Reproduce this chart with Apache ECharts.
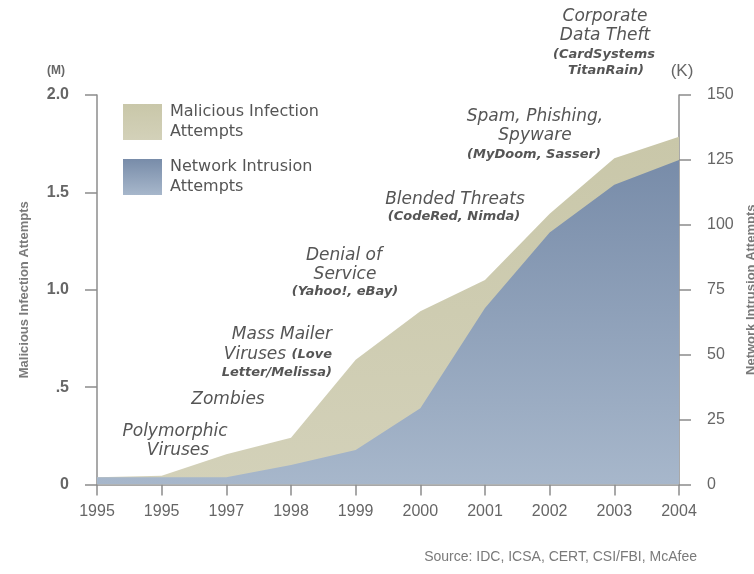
<!DOCTYPE html>
<html>
<head>
<meta charset="utf-8">
<script src="https://cdn.jsdelivr.net/npm/echarts@6/dist/echarts.min.js"></script>
<style>
  html, body { margin: 0; padding: 0; background: #ffffff; }
  #chart { width: 754px; height: 574px; }
</style>
</head>
<body>
<div id="chart"></div>
<script>
// Year labels along the bottom axis (as printed)
const years = ['1995', '1995', '1997', '1998', '1999', '2000', '2001', '2002', '2003', '2004'];
// Malicious infection attempts, millions (left axis)
const infectionM = [0.037, 0.045, 0.155, 0.24, 0.64, 0.89, 1.05, 1.39, 1.675, 1.785];
// Network intrusion attempts, thousands (right axis)
const intrusionK = [2.8, 2.8, 2.8, 7.5, 13.3, 29.4, 68, 97, 115.4, 125];
// Tick labels
const leftTicks = ['0', '.5', '1.0', '1.5', '2.0'];
const rightTicks = ['0', '25', '50', '75', '100', '125', '150'];
// Series names
const infectionName = 'Malicious Infection Attempts';
const intrusionName = 'Network Intrusion Attempts';

const axisGrey = '#8c8c8c';
const labelGrey = '#666666';
const noteGrey = '#555555';
const narrow = "'Liberation Sans Narrow', 'Liberation Sans', Arial, sans-serif";
const noteFont = "'DejaVu Sans', Verdana, sans-serif";

const khakiFill = new echarts.graphic.LinearGradient(0, 0, 0, 1, [
  { offset: 0, color: '#c9c7a9' },
  { offset: 1, color: '#d3d1b9' }
]);
const blueFill = new echarts.graphic.LinearGradient(0, 0, 0, 1, [
  { offset: 0, color: '#788ca9' },
  { offset: 1, color: '#a7b7cb' }
]);

function note(text, x, y, size, align, weight) {
  return {
    type: 'text',
    x: x, y: y,
    style: {
      text: text,
      align: align || 'center',
      verticalAlign: 'middle',
      fill: noteGrey,
      font: 'italic ' + (weight || 'normal') + ' ' + size + 'px ' + noteFont
    }
  };
}

const chart = echarts.init(document.getElementById('chart'), null, { renderer: 'canvas' });

chart.setOption({
  backgroundColor: '#ffffff',
  animation: false,
  grid: { left: 97, right: 75, top: 95, bottom: 89.5, containLabel: false, outerBoundsMode: 'none' },
  legend: {
    orient: 'vertical',
    left: 118,
    top: 97,
    itemWidth: 39,
    itemHeight: 36,
    itemGap: 15,
    selectedMode: false,
    data: [
      { name: infectionName, icon: 'rect', itemStyle: { color: khakiFill } },
      { name: intrusionName, icon: 'rect', itemStyle: { color: blueFill } }
    ],
    formatter: function (name) { return name.replace(' Attempts', '\nAttempts'); },
    textStyle: {
      fontFamily: noteFont,
      fontSize: 16,
      lineHeight: 20,
      color: '#555555',
      padding: [0, 0, 0, 3]
    }
  },
  xAxis: {
    type: 'category',
    data: years,
    boundaryGap: false,
    axisLine: { lineStyle: { color: axisGrey, width: 1.5 } },
    axisTick: { show: true, length: 11, inside: false, lineStyle: { color: axisGrey, width: 1.5 } },
    axisLabel: { color: labelGrey, fontFamily: narrow, fontSize: 16, margin: 19 },
    splitLine: { show: false }
  },
  yAxis: [
    {
      type: 'value',
      min: 0, max: 2, interval: 0.5,
      position: 'left',
      axisLine: { show: true, lineStyle: { color: axisGrey, width: 1.5 } },
      axisTick: { show: true, length: 12, lineStyle: { color: axisGrey, width: 1.5 } },
      axisLabel: {
        color: labelGrey, fontFamily: narrow, fontSize: 16, fontWeight: 'bold', margin: 28,
        formatter: function (v) { return leftTicks[Math.round(v / 0.5)]; }
      },
      splitLine: { show: false },
      name: infectionName,
      nameLocation: 'middle',
      nameRotate: 90,
      nameGap: 66,
      nameTextStyle: { color: '#7a7a7a', fontFamily: "'Liberation Sans', Arial, sans-serif", fontSize: 13, fontWeight: 'bold' }
    },
    {
      type: 'value',
      min: 0, max: 150, interval: 25,
      position: 'right',
      axisLine: { show: true, lineStyle: { color: axisGrey, width: 1.5 } },
      axisTick: { show: true, length: 12, lineStyle: { color: axisGrey, width: 1.5 } },
      axisLabel: {
        color: labelGrey, fontFamily: narrow, fontSize: 16, margin: 28,
        formatter: function (v) { return rightTicks[Math.round(v / 25)]; }
      },
      splitLine: { show: false },
      name: intrusionName,
      nameLocation: 'middle',
      nameRotate: 90,
      nameGap: 58,
      nameTextStyle: { color: '#7a7a7a', fontFamily: "'Liberation Sans', Arial, sans-serif", fontSize: 13, fontWeight: 'bold' }
    }
  ],
  series: [
    {
      name: infectionName,
      type: 'line',
      yAxisIndex: 0,
      data: infectionM,
      symbol: 'none',
      smooth: false,
      lineStyle: { width: 0 },
      itemStyle: { color: khakiFill },
      areaStyle: { color: khakiFill, opacity: 1 },
      z: 2
    },
    {
      name: intrusionName,
      type: 'line',
      yAxisIndex: 1,
      data: intrusionK,
      symbol: 'none',
      smooth: false,
      lineStyle: { width: 0 },
      itemStyle: { color: blueFill },
      areaStyle: { color: blueFill, opacity: 1 },
      z: 3
    }
  ],
  graphic: [
    // unit markers above the two value axes
    { type: 'text', x: 56, y: 71, style: { text: '(M)', align: 'center', verticalAlign: 'middle', fill: labelGrey, font: 'bold 12px ' + narrow } },
    { type: 'text', x: 682, y: 71, style: { text: '(K)', align: 'center', verticalAlign: 'middle', fill: labelGrey, font: '17px ' + narrow } },

    // threat milestones
    note('Corporate', 605, 17, 17),
    note('Data Theft', 605, 36, 17),
    note('(CardSystems', 604, 55, 13, null, 'bold'),
    note('TitanRain)', 606, 71, 13, null, 'bold'),

    note('Spam, Phishing,', 535, 117, 17),
    note('Spyware', 535, 136, 17),
    note('(MyDoom, Sasser)', 534, 155, 13, null, 'bold'),

    note('Blended Threats', 455, 200, 17),
    note('(CodeRed, Nimda)', 454, 217, 13, null, 'bold'),

    note('Denial of', 344, 256, 17),
    note('Service', 345, 275, 17),
    note('(Yahoo!, eBay)', 345, 292, 13, null, 'bold'),

    note('Mass Mailer', 332, 335, 17, 'right'),
    {
      type: 'text', x: 332, y: 355,
      style: {
        text: '{a|Viruses }{b|(Love}',
        align: 'right', verticalAlign: 'middle',
        rich: {
          a: { fill: noteGrey, font: 'italic 17px ' + noteFont },
          b: { fill: noteGrey, font: 'italic bold 13px ' + noteFont }
        }
      }
    },
    note('Letter/Melissa)', 332, 373, 13, 'right', 'bold'),

    note('Zombies', 228, 400, 17),

    note('Polymorphic', 175, 432, 17),
    note('Viruses', 178, 451, 17),

    // data credits
    {
      type: 'text', x: 697, y: 557,
      style: { text: 'Source: IDC, ICSA, CERT, CSI/FBI, McAfee', align: 'right', verticalAlign: 'middle', fill: '#7a7a7a', font: '14px ' + "'Liberation Sans', Arial, sans-serif" }
    }
  ]
});
</script>
</body>
</html>
